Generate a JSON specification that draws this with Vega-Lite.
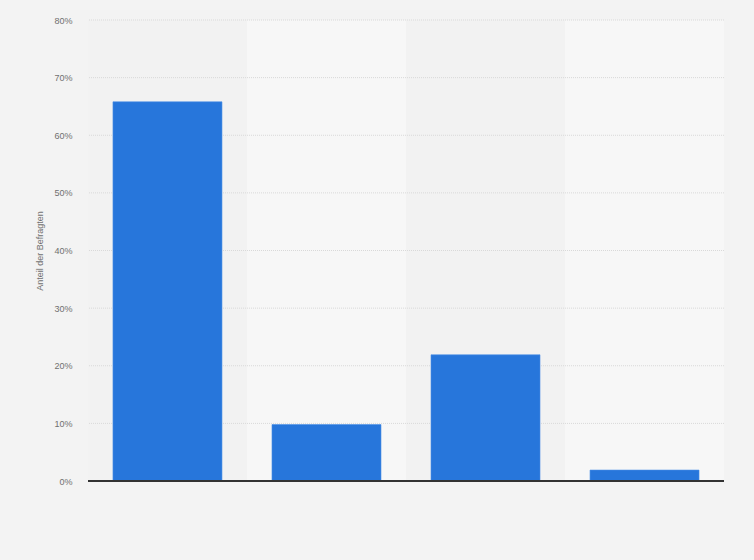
{
  "$schema": "https://vega.github.io/schema/vega-lite/v6.json",
  "width": 636,
  "height": 461,
  "autosize": {"type": "none"},
  "padding": {"left": 88, "top": 20, "right": 30, "bottom": 79},
  "background": "#f3f3f3",
  "config": {
    "view": {"stroke": null},
    "font": "Liberation Sans",
    "axis": {"labelFont": "Liberation Sans", "titleFont": "Liberation Sans"}
  },
  "datasets": {
    "antworten": [
      {"antwort": "A", "band": 0, "anteil": 65.8},
      {"antwort": "B", "band": 1, "anteil": 9.8},
      {"antwort": "C", "band": 0, "anteil": 21.9},
      {"antwort": "D", "band": 1, "anteil": 1.9}
    ],
    "raster": [
      {"wert": 10}, {"wert": 20}, {"wert": 30}, {"wert": 40},
      {"wert": 50}, {"wert": 60}, {"wert": 70}, {"wert": 80}
    ]
  },
  "layer": [
    {
      "data": {"name": "antworten"},
      "mark": {"type": "rect"},
      "encoding": {
        "x": {"field": "antwort", "type": "nominal", "scale": {"paddingInner": 0, "paddingOuter": 0}, "axis": null},
        "y": {"value": 0},
        "y2": {"value": 461},
        "color": {
          "field": "band",
          "type": "nominal",
          "scale": {"domain": [0, 1], "range": ["#f2f2f2", "#f7f7f7"]},
          "legend": null
        }
      }
    },
    {
      "data": {"name": "raster"},
      "mark": {"type": "rule", "color": "#d9d9d9", "strokeDash": [1, 1], "strokeWidth": 1},
      "encoding": {
        "y": {"field": "wert", "type": "quantitative"}
      }
    },
    {
      "data": {"name": "antworten"},
      "mark": {"type": "bar", "color": "#2776db", "stroke": "#4a8fe6", "strokeWidth": 0.6},
      "encoding": {
        "x": {
          "field": "antwort",
          "type": "nominal",
          "scale": {"paddingInner": 0.3145, "paddingOuter": 0.157},
          "axis": null
        },
        "y": {
          "field": "anteil",
          "type": "quantitative",
          "scale": {"domain": [0, 80], "nice": false},
          "axis": {
            "values": [0, 10, 20, 30, 40, 50, 60, 70, 80],
            "labelExpr": "datum.value + '%'",
            "labelColor": "#707070",
            "labelFontSize": 9,
            "labelPadding": 16,
            "ticks": false,
            "domain": false,
            "grid": false,
            "title": "Anteil der Befragten",
            "titleColor": "#707070",
            "titleFontSize": 9,
            "titleFontWeight": "normal",
            "titlePadding": 9
          }
        }
      }
    },
    {
      "data": {"name": "raster"},
      "mark": {"type": "rule", "color": "#333333", "strokeWidth": 1.2},
      "encoding": {
        "y": {"datum": 0, "type": "quantitative"}
      }
    }
  ],
  "resolve": {"scale": {"x": "independent", "color": "independent"}}
}
